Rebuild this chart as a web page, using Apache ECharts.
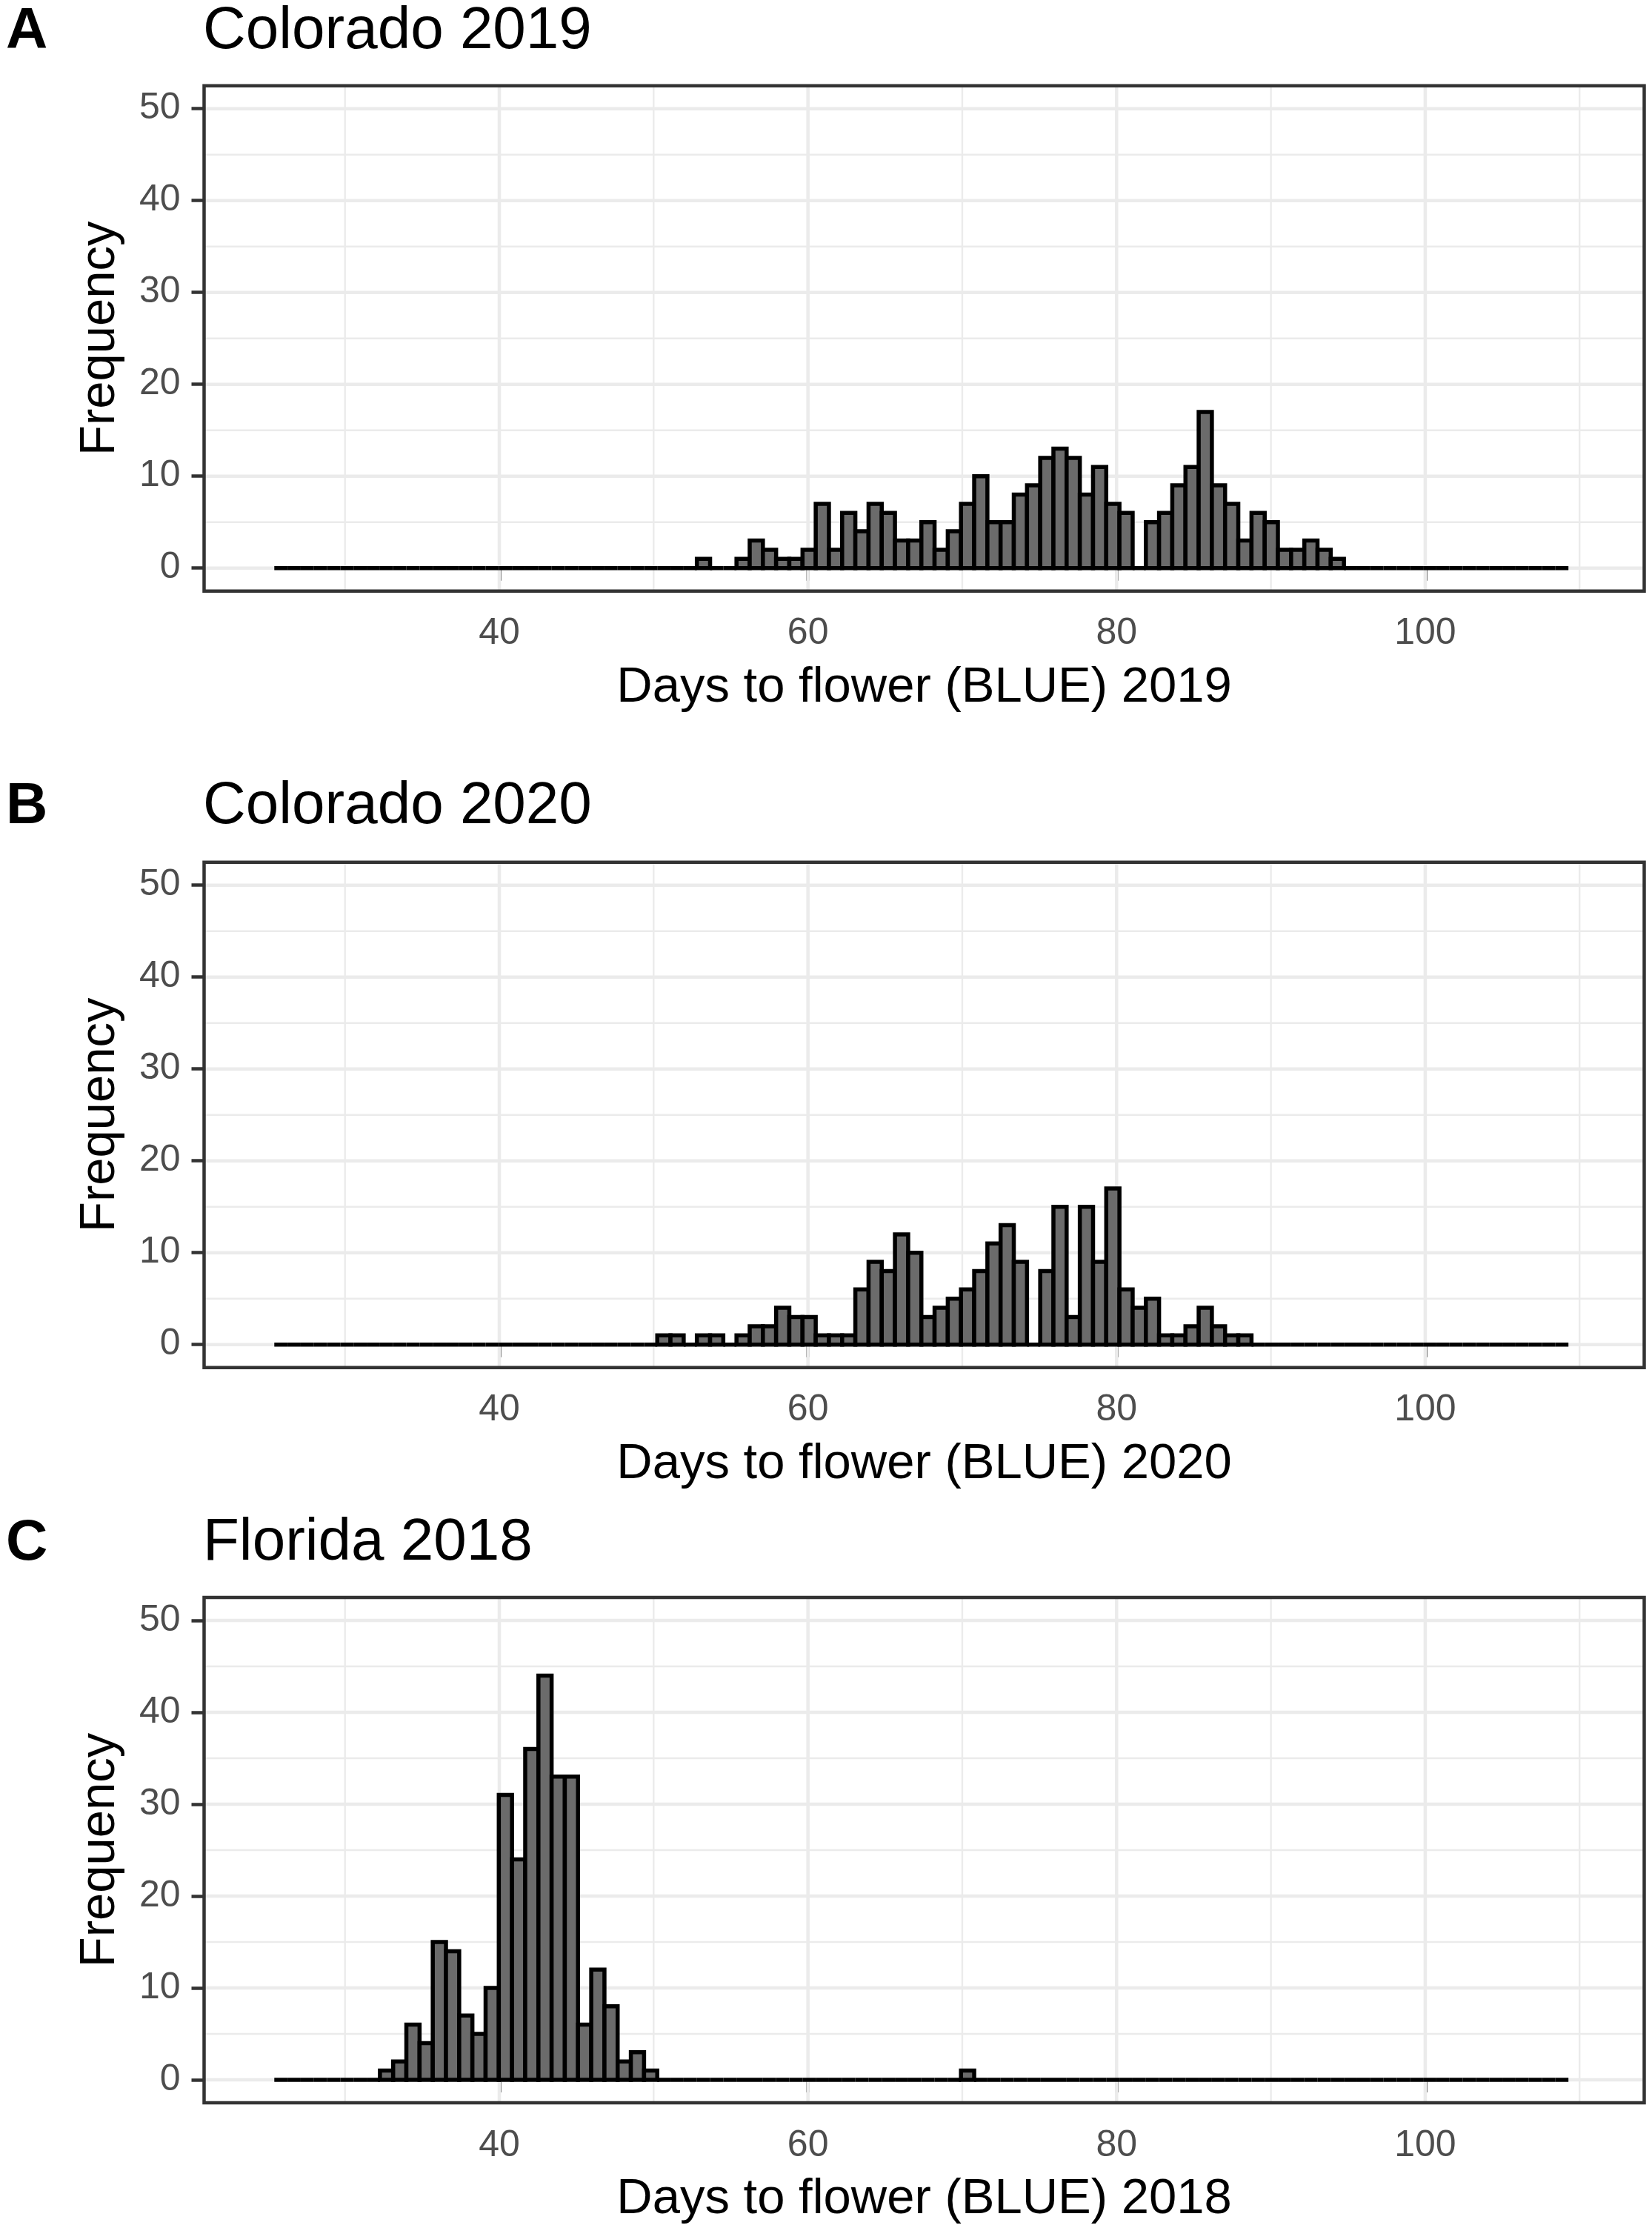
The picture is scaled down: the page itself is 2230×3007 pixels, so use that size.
<!DOCTYPE html>
<html>
<head>
<meta charset="utf-8">
<title>Days to flower histograms</title>
<script src="https://cdn.jsdelivr.net/npm/echarts@6/dist/echarts.min.js"></script>
<style>
  html, body { margin: 0; padding: 0; background: #fff; }
  #chart { width: 2230px; height: 3007px; }
</style>
</head>
<body>
<div id="chart"></div>
<script>
// histogram bins (shared by all three panels)
var BIN_START = 25.42;
var BIN_WIDTH = 0.8557;
var N_BINS = 98;

// counts; first bin index where each list starts
var firstBinA = 32;
var countsA = [1,0,0,1,3,2,1,1,2,7,2,6,4,7,6,3,3,5,2,4,7,10,5,5,8,9,12,13,12,8,11,7,6,0,5,6,9,11,17,9,7,3,6,5,2,2,3,2,1];
var firstBinB = 29;
var countsB = [1,1,0,1,1,0,1,2,2,4,3,3,1,1,1,6,9,8,12,10,3,4,5,6,8,11,13,9,0,8,15,3,15,9,17,6,4,5,1,1,2,4,2,1,1];
var firstBinC = 8;
var countsC = [1,2,6,4,15,14,7,5,10,31,24,36,44,33,33,6,12,8,2,3,1,
               0,0,0,0,0,0,0,0,0,0,0,0,0,0,0,0,0,0,0,0,0,0,0,1];

var titles = ['Colorado 2019', 'Colorado 2020', 'Florida 2018'];
var letters = ['A', 'B', 'C'];
var xNames = ['Days to flower (BLUE) 2019', 'Days to flower (BLUE) 2020', 'Days to flower (BLUE) 2018'];

// axes
var X_MIN = 20.87, X_MAX = 114.19;
var Y_MIN = -2.5, Y_MAX = 52.5;
var xTicks = [40, 60, 80, 100];
var xMinor = [30, 50, 70, 90, 110];
var yTicks = [0, 10, 20, 30, 40, 50];
var yMinor = [5, 15, 25, 35, 45];

var FONT = '"Liberation Sans", Arial, sans-serif';

// panel placement
var gridTops = [115.7, 1163.7, 2156];
var titleTops = [3, 1049, 2043];

function makeBins(first, counts) {
    var out = [];
    for (var i = 0; i < N_BINS; i++) {
        var x0 = BIN_START + i * BIN_WIDTH;
        var c = counts[i - first];
        out.push([x0, x0 + BIN_WIDTH, c ? c : 0]);
    }
    return out;
}

function gridData() {
    var d = [];
    xMinor.forEach(function (v) { d.push([v, 0, 0]); });
    yMinor.forEach(function (v) { d.push([v, 1, 0]); });
    xTicks.forEach(function (v) { d.push([v, 0, 1]); });
    yTicks.forEach(function (v) { d.push([v, 1, 1]); });
    return d;
}

// background grid lines (major / minor), drawn under the panel border
function renderGridLine(params, api) {
    var v = api.value(0);
    var p0, p1;
    if (api.value(1) === 0) {
        p0 = api.coord([v, Y_MIN]);
        p1 = api.coord([v, Y_MAX]);
    } else {
        p0 = api.coord([X_MIN, v]);
        p1 = api.coord([X_MAX, v]);
    }
    return {
        type: 'line',
        shape: { x1: p0[0], y1: p0[1], x2: p1[0], y2: p1[1] },
        style: { stroke: '#ebebeb', lineWidth: api.value(2) ? 4.5 : 2.4 }
    };
}

// one histogram bar per bin, empty bins give the flat outline at 0
function renderBar(params, api) {
    var p0 = api.coord([api.value(0), 0]);
    var p1 = api.coord([api.value(1), api.value(2)]);
    return {
        type: 'rect',
        shape: { x: p0[0], y: p1[1], width: p1[0] - p0[0], height: p0[1] - p1[1] },
        style: { fill: '#6b6b6b', stroke: '#000', lineWidth: 5.5, lineJoin: 'miter' }
    };
}

var allBins = [
    makeBins(firstBinA, countsA),
    makeBins(firstBinB, countsB),
    makeBins(firstBinC, countsC)
];

var option = {
    backgroundColor: '#fff',
    animation: false,
    textStyle: { fontFamily: FONT },
    title: [],
    grid: [],
    xAxis: [],
    yAxis: [],
    series: []
};

for (var k = 0; k < 3; k++) {
    option.title.push({
        text: letters[k], left: 8, top: titleTops[k] + 1, padding: 0,
        textStyle: { fontFamily: FONT, fontSize: 78, fontWeight: 'bold', color: '#000' }
    });
    option.title.push({
        text: titles[k], left: 274, top: titleTops[k], padding: 0,
        textStyle: { fontFamily: FONT, fontSize: 80, fontWeight: 'normal', color: '#000' }
    });
    option.grid.push({
        left: 275.5, right: 10.5, top: gridTops[k], height: 682,
        show: true, borderColor: '#333', borderWidth: 4.5, z: 2
    });
    option.xAxis.push({
        type: 'value', gridIndex: k, min: X_MIN, max: X_MAX,
        name: xNames[k], nameLocation: 'middle', nameGap: 97,
        nameTextStyle: { fontFamily: FONT, fontSize: 67, color: '#000' },
        axisLine: { show: false },
        splitLine: { show: false },
        axisTick: { show: true, customValues: xTicks, length: 17, lineStyle: { color: '#333', width: 4.5 } },
        axisLabel: { customValues: xTicks, margin: 33, fontSize: 50, color: '#4d4d4d', fontFamily: FONT }
    });
    option.yAxis.push({
        type: 'value', gridIndex: k, min: Y_MIN, max: Y_MAX,
        name: 'Frequency', nameLocation: 'middle', nameGap: 106, nameRotate: 90,
        nameTextStyle: { fontFamily: FONT, fontSize: 67, color: '#000' },
        axisLine: { show: false },
        splitLine: { show: false },
        axisTick: { show: true, customValues: yTicks, length: 17, lineStyle: { color: '#333', width: 4.5 } },
        axisLabel: { customValues: yTicks, margin: 32, fontSize: 50, color: '#4d4d4d', fontFamily: FONT }
    });
    option.series.push({
        type: 'custom', name: 'grid' + k, xAxisIndex: k, yAxisIndex: k,
        z: 1, silent: true,
        renderItem: renderGridLine,
        encode: { x: 0, y: 1 },
        data: gridData()
    });
    option.series.push({
        type: 'custom', name: titles[k], xAxisIndex: k, yAxisIndex: k,
        z: 3,
        renderItem: renderBar,
        encode: { x: [0, 1], y: 2 },
        data: allBins[k]
    });
}

var myChart = echarts.init(document.getElementById('chart'));
myChart.setOption(option);
</script>
</body>
</html>
